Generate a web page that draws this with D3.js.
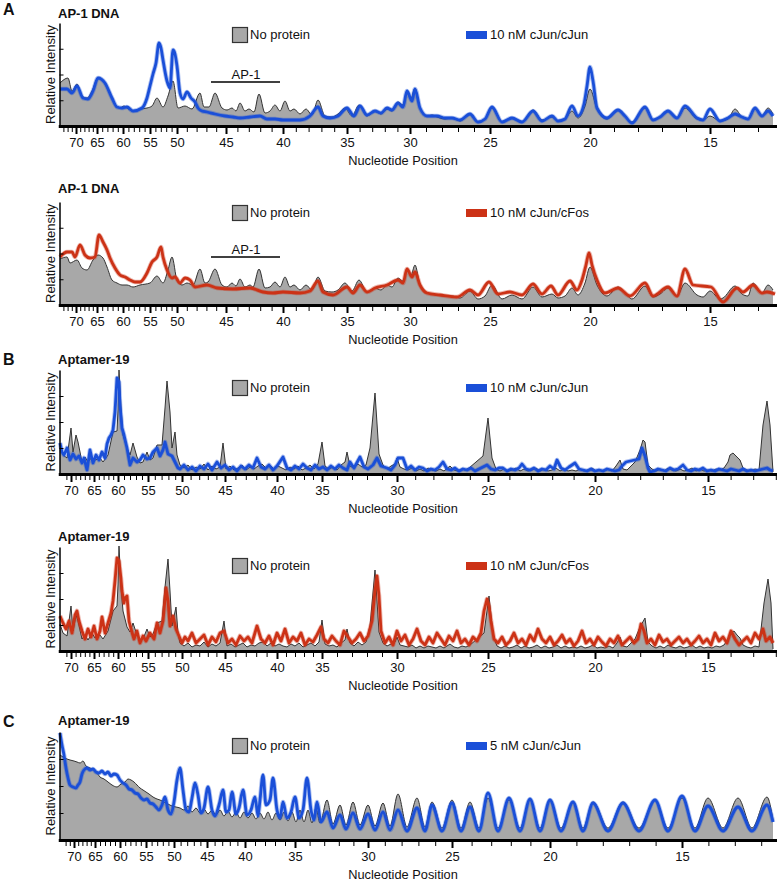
<!DOCTYPE html>
<html><head><meta charset="utf-8">
<script src="https://cdn.jsdelivr.net/npm/d3@7/dist/d3.min.js"></script>
<style>
body{margin:0;background:#fff}
svg text{font-family:"Liberation Sans", Arial, Helvetica, sans-serif;fill:#111}
</style>
</head><body>
<svg id="c" width="780" height="881"></svg>
<script>
// ---------------- DATA ----------------
// x values are electrophoresis scan units, y values are relative intensity units
const tickLabels = [70,65,60,55,50,45,40,35,30,25,20,15];
const ticksScanA = [16,37,63,90,117,166,223,287,350,430,530,650];
const ticksScanB = [11,34,58,88,122,165,217,262,337,428,535,648];
const ticksScanC = [14,35,60,86,114,147,185,235,308,392,490,622];

const a1Gray = [[0,43],[8,48],[12,35],[17,42],[22,30],[27,28],[32,35],[38,48],[43,45],[50,32],[55,22],[60,18],[64,20],[67,18],[73,15],[80,17],[87,18],[92,20],[97,28],[103,19],[108,30],[113,45],[118,18],[125,20],[132,17],[140,33],[144,19],[149,19],[155,33],[162,18],[167,16],[172,18],[176,15],[180,23],[185,15],[189,17],[194,14],[199,32],[205,13],[210,15],[215,21],[220,15],[225,25],[230,15],[234,17],[240,12],[246,17],[252,11],[258,26],[265,10],[272,9],[278,12],[285,18],[292,10],[299,21],[307,10],[315,15],[321,12],[327,17],[332,15],[338,24],[343,21],[347,35],[351,28],[355,38],[360,18],[367,10],[372,11],[377,9],[385,7],[392,8],[400,5],[410,12],[418,4],[425,7],[432,18],[442,4],[452,8],[462,4],[473,16],[482,6],[492,9],[498,5],[505,7],[512,15],[518,8],[525,20],[530,37],[537,17],[547,7],[558,16],[565,10],[572,4],[585,18],[593,6],[600,9],[608,15],[617,8],[625,18],[637,7],[643,6],[650,10],[660,5],[668,7],[675,17],[682,9],[688,7],[695,17],[702,10],[708,18],[713,12]];
const a1Jun = [[0,37],[7,37],[12,33],[17,40],[23,28],[28,27],[33,35],[38,48],[45,43],[52,28],[57,19],[62,18],[67,19],[73,15],[82,18],[87,28],[90,40],[93,52],[96,63],[99,83],[101,78],[103,66],[107,45],[110,38],[113,76],[115,72],[117,60],[120,33],[123,27],[127,34],[131,28],[135,24],[138,18],[142,15],[147,14],[155,12],[165,10],[173,9],[180,8],[190,9],[200,10],[207,7],[215,7],[223,6],[232,6],[240,6],[250,10],[258,19],[263,10],[270,8],[278,10],[287,18],[294,10],[300,20],[307,11],[315,15],[321,13],[327,18],[332,16],[338,23],[343,19],[347,35],[352,25],[355,37],[360,18],[367,10],[377,10],[385,8],[392,8],[400,6],[410,12],[418,4],[425,7],[432,19],[442,4],[452,8],[462,4],[473,15],[482,5],[492,10],[498,5],[505,7],[512,20],[518,10],[524,22],[527,40],[530,59],[533,45],[537,18],[547,8],[558,16],[565,10],[572,3],[585,19],[593,6],[600,9],[608,15],[617,8],[625,20],[637,8],[643,6],[650,17],[660,5],[668,8],[675,12],[682,9],[688,7],[695,18],[702,10],[708,15],[713,10]];

const a2Gray = [[0,46],[7,48],[10,42],[17,45],[22,37],[27,35],[33,45],[38,50],[43,47],[47,38],[52,25],[57,22],[62,20],[67,20],[73,18],[80,20],[90,22],[97,29],[103,22],[108,35],[112,48],[117,25],[122,20],[127,22],[133,20],[140,36],[145,22],[148,23],[155,36],[162,20],[167,18],[172,22],[176,19],[180,26],[185,18],[190,20],[193,18],[199,36],[205,17],[210,18],[215,23],[220,18],[225,28],[230,18],[234,20],[240,15],[246,20],[252,15],[258,28],[265,14],[272,13],[278,15],[285,22],[292,14],[299,25],[307,13],[315,17],[321,15],[327,20],[332,18],[338,27],[343,24],[347,35],[351,30],[355,40],[360,20],[367,12],[377,10],[385,9],[392,9],[400,7],[410,14],[418,6],[425,9],[432,20],[442,6],[452,10],[462,6],[473,18],[482,8],[492,11],[498,7],[505,9],[512,17],[518,10],[525,22],[530,38],[537,20],[547,9],[558,18],[565,12],[572,6],[585,19],[593,8],[600,11],[608,17],[617,9],[625,22],[637,10],[643,8],[650,14],[660,6],[663,7],[675,19],[682,11],[688,9],[693,22],[702,12],[708,20],[713,15]];
const a2Fos = [[0,48],[7,53],[12,53],[15,48],[20,60],[25,50],[30,47],[35,48],[39,70],[43,63],[47,55],[50,47],[55,37],[60,30],[65,28],[70,25],[75,23],[80,23],[87,32],[92,43],[97,48],[101,58],[103,48],[107,35],[112,27],[115,28],[120,22],[125,27],[130,25],[135,18],[147,20],[157,17],[173,16],[190,17],[203,13],[213,12],[223,13],[240,12],[250,14],[258,24],[263,13],[273,10],[287,18],[293,12],[300,20],[307,13],[315,17],[327,20],[338,25],[343,22],[347,36],[352,28],[355,33],[360,20],[367,12],[380,10],[397,8],[410,15],[418,10],[429,23],[438,11],[450,13],[462,10],[473,21],[482,11],[491,19],[498,10],[510,24],[517,15],[522,25],[526,40],[529,52],[532,40],[537,25],[545,12],[558,17],[570,9],[585,22],[593,9],[608,18],[617,9],[625,36],[633,20],[651,18],[663,3],[677,17],[683,13],[693,20],[702,12],[707,13],[715,11]];

const b1Gray = [[0,29],[3,19],[7,16],[11,46],[13,22],[16,39],[18,32],[22,12],[25,17],[28,12],[32,17],[35,14],[40,16],[43,12],[48,19],[53,42],[57,43],[58,64],[59,104],[61,66],[63,39],[67,26],[70,19],[73,31],[77,17],[80,11],[83,12],[87,22],[90,14],[93,16],[97,29],[102,29],[105,66],[107,93],[110,62],[112,26],[115,42],[117,19],[120,9],[124,6],[128,9],[132,4],[136,7],[140,5],[144,10],[148,4],[152,8],[156,5],[160,7],[163,31],[166,5],[170,8],[174,4],[178,6],[182,9],[186,4],[190,7],[194,5],[198,8],[202,10],[206,6],[210,9],[214,5],[218,8],[222,6],[226,4],[230,7],[234,5],[238,8],[242,4],[246,6],[250,9],[254,5],[258,10],[262,32],[265,8],[269,5],[273,7],[277,4],[281,9],[285,12],[287,22],[290,8],[294,6],[298,10],[302,7],[306,9],[310,26],[315,81],[319,20],[323,9],[327,5],[331,8],[335,10],[337,16],[340,7],[344,5],[348,4],[352,6],[356,3],[360,5],[364,3],[368,6],[372,4],[376,3],[380,5],[384,3],[390,8],[394,4],[398,3],[402,5],[405,4],[409,6],[423,18],[428,56],[432,16],[436,5],[440,3],[444,5],[448,3],[452,4],[456,6],[460,3],[464,5],[468,3],[472,4],[476,6],[480,3],[484,5],[488,3],[492,4],[496,6],[500,3],[504,5],[508,3],[512,4],[516,3],[520,5],[524,3],[528,4],[532,6],[536,3],[540,4],[544,3],[548,5],[552,3],[556,8],[560,14],[563,5],[567,4],[571,8],[575,12],[580,24],[583,34],[585,32],[588,9],[592,5],[596,3],[600,5],[604,3],[608,6],[612,4],[616,3],[620,5],[624,3],[628,4],[632,6],[636,3],[640,5],[644,3],[648,4],[652,3],[656,5],[660,4],[664,6],[668,12],[670,19],[673,21],[677,17],[680,14],[683,6],[687,4],[691,3],[695,5],[699,4],[703,49],[707,73],[710,49],[713,2]];
const b1Jun = [[0,31],[2,22],[4,19],[7,26],[10,14],[13,20],[16,15],[19,18],[22,11],[24,16],[27,4],[30,24],[33,11],[36,19],[39,14],[42,22],[45,16],[47,30],[49,36],[51,39],[53,44],[55,62],[57,96],[59,92],[60,69],[62,46],[64,39],[67,26],[70,9],[73,16],[77,12],[80,14],[83,19],[87,15],[90,16],[93,22],[97,26],[100,18],[103,24],[105,32],[108,20],[112,18],[115,12],[118,6],[120,5],[124,9],[128,4],[132,7],[136,3],[140,8],[144,5],[148,10],[152,4],[157,12],[161,6],[165,9],[169,4],[173,7],[177,3],[181,8],[185,5],[189,9],[193,6],[197,16],[201,7],[205,5],[209,9],[213,4],[217,8],[223,17],[227,6],[231,4],[235,8],[239,5],[243,10],[247,6],[251,4],[255,9],[259,5],[263,7],[267,4],[271,8],[275,5],[279,9],[283,6],[287,4],[290,12],[294,6],[300,17],[304,7],[308,5],[313,9],[317,16],[321,8],[327,6],[331,4],[335,9],[338,16],[343,16],[347,5],[351,8],[355,4],[359,7],[363,6],[367,3],[371,5],[375,4],[379,7],[383,12],[387,5],[391,4],[395,6],[399,3],[403,5],[407,4],[411,6],[415,3],[419,5],[423,7],[427,9],[431,5],[435,4],[439,6],[443,6],[447,3],[451,5],[455,4],[459,6],[462,10],[466,5],[470,4],[474,6],[478,3],[482,5],[486,4],[490,8],[494,5],[497,14],[501,6],[505,4],[509,7],[515,11],[519,5],[523,4],[527,3],[531,5],[535,3],[539,4],[543,3],[547,5],[551,4],[555,3],[559,4],[562,8],[566,12],[579,15],[582,26],[585,18],[588,6],[590,2],[594,3],[598,5],[602,4],[606,3],[610,6],[614,4],[618,5],[623,9],[627,4],[631,3],[635,5],[639,4],[643,6],[647,3],[651,4],[655,3],[659,5],[663,4],[667,3],[671,5],[675,4],[679,3],[683,5],[687,3],[691,4],[695,3],[699,4],[703,5],[707,6],[710,4],[713,3]];

const b2Gray = [[0,27],[3,18],[7,15],[11,45],[13,20],[16,36],[18,30],[22,12],[25,16],[28,11],[32,18],[35,13],[40,16],[43,12],[48,20],[53,40],[57,45],[58,66],[59,105],[61,64],[63,40],[67,24],[70,19],[73,28],[77,16],[80,11],[83,12],[87,22],[90,14],[93,17],[97,28],[102,30],[105,64],[108,92],[110,60],[112,25],[116,44],[118,18],[120,8],[124,5],[128,8],[132,4],[136,6],[140,5],[144,9],[148,4],[152,7],[156,5],[160,8],[164,30],[167,5],[171,7],[175,4],[179,6],[183,8],[187,4],[191,6],[195,5],[199,8],[203,9],[207,5],[211,8],[215,5],[219,7],[223,5],[227,4],[231,7],[235,5],[239,8],[243,4],[247,6],[251,8],[255,5],[259,9],[262,31],[265,7],[269,5],[273,6],[277,4],[281,8],[285,11],[287,22],[290,8],[294,5],[298,9],[302,6],[306,9],[310,25],[315,81],[319,19],[323,8],[327,5],[331,7],[335,9],[337,14],[340,6],[344,5],[348,4],[352,6],[356,3],[360,5],[364,3],[368,5],[372,4],[376,3],[380,5],[384,3],[390,7],[394,4],[398,3],[402,5],[406,4],[410,6],[424,18],[429,55],[433,16],[437,5],[441,3],[445,5],[449,3],[453,4],[457,6],[461,3],[465,5],[469,3],[473,4],[477,6],[481,3],[485,5],[489,3],[493,4],[497,6],[501,3],[505,5],[509,3],[513,4],[517,3],[521,5],[525,3],[529,4],[533,6],[537,3],[541,4],[545,3],[549,5],[553,3],[557,8],[560,14],[563,5],[567,4],[571,8],[575,12],[580,24],[585,33],[588,9],[592,5],[596,3],[600,5],[604,3],[608,6],[612,4],[616,3],[620,5],[624,3],[628,4],[632,6],[636,3],[640,5],[644,3],[648,4],[652,3],[656,5],[660,4],[664,6],[668,12],[671,18],[674,20],[677,16],[680,13],[683,6],[687,4],[691,3],[695,5],[699,4],[704,48],[708,72],[711,48],[713,2]];
const b2Fos = [[0,35],[3,28],[6,22],[9,30],[12,18],[15,36],[17,40],[19,30],[22,20],[25,12],[28,22],[31,14],[34,25],[37,12],[40,20],[42,34],[45,18],[48,28],[51,38],[53,50],[55,70],[57,93],[59,90],[61,72],[62,60],[64,48],[65,53],[67,55],[69,30],[71,22],[74,12],[77,20],[80,8],[83,15],[86,10],[90,18],[94,12],[97,28],[100,18],[103,30],[106,63],[108,50],[110,25],[113,35],[116,22],[119,15],[122,8],[125,14],[128,10],[132,18],[136,8],[140,12],[144,16],[148,6],[152,14],[156,9],[160,18],[164,20],[168,8],[172,12],[176,6],[180,15],[184,10],[188,14],[192,8],[197,25],[201,12],[205,8],[209,15],[213,6],[217,18],[221,10],[225,22],[229,8],[233,14],[237,10],[241,18],[245,6],[249,12],[253,9],[257,16],[261,24],[264,12],[268,8],[272,15],[276,10],[280,6],[284,20],[288,14],[292,8],[296,12],[300,18],[304,10],[308,15],[312,30],[315,60],[317,75],[319,55],[321,20],[325,8],[329,14],[333,6],[337,20],[341,10],[345,16],[349,6],[353,12],[357,22],[361,10],[365,6],[369,14],[373,8],[377,18],[381,12],[385,6],[389,15],[393,10],[397,20],[401,8],[405,12],[409,6],[413,14],[417,10],[421,18],[424,40],[427,52],[429,45],[431,30],[434,12],[438,8],[442,14],[446,6],[450,10],[454,18],[458,8],[462,12],[466,6],[470,16],[474,10],[478,22],[482,12],[486,8],[490,14],[494,6],[498,10],[502,16],[506,8],[510,12],[514,5],[518,10],[522,20],[526,8],[530,12],[534,6],[538,14],[542,9],[546,5],[550,12],[554,8],[558,15],[562,6],[566,10],[570,14],[574,8],[578,12],[581,27],[584,20],[587,8],[591,12],[595,6],[599,16],[603,9],[607,12],[611,6],[615,10],[619,14],[623,8],[627,12],[631,6],[635,10],[639,15],[643,8],[647,12],[651,6],[655,18],[659,10],[663,14],[667,8],[671,20],[675,12],[679,6],[683,10],[687,14],[691,8],[695,18],[699,12],[703,22],[706,10],[710,14],[713,8]];

const cGray = [[0,85],[3,83],[7,81],[10,80],[14,79],[17,78],[20,77],[23,79],[26,74],[30,72],[34,70],[37,67],[40,63],[44,61],[48,58],[52,55],[57,53],[61,56],[65,58],[68,61],[71,60],[74,58],[77,55],[80,52],[83,50],[86,48],[89,46],[93,43],[97,41],[100,40],[104,38],[108,36],[112,34],[116,33],[120,32],[124,30],[128,34],[132,28],[136,32],[140,27],[144,31],[148,26],[152,30],[156,25],[160,30],[164,24],[168,29],[172,23],[176,28],[180,22],[184,28],[188,22],[192,27],[196,21],[200,27],[204,21],[208,28],[212,20],[216,27],[220,20],[224,28],[228,19],[232,28],[236,18],[240,30],[244,18],[248,30],[252,17],[256,32],[260,17],[267,40],[273,16],[280,35],[286,15],[293,38],[300,15],[308,35],[315,14],[323,37],[330,14],[338,46],[347,13],[357,42],[365,13],[372,38],[382,12],[392,40],[401,12],[410,38],[419,12],[428,42],[438,12],[449,40],[460,12],[470,40],[480,12],[490,40],[501,12],[513,38],[523,12],[533,38],[548,12],[563,38],[579,12],[595,40],[608,12],[622,42],[635,12],[648,42],[663,12],[678,42],[692,12],[707,43],[713,20]];
const cJun = [[0,107],[2,95],[4,85],[6,72],[8,62],[10,55],[13,53],[16,52],[18,55],[20,58],[22,66],[24,70],[27,72],[30,70],[33,71],[36,68],[39,67],[42,69],[45,66],[48,68],[51,64],[54,66],[57,65],[60,60],[63,57],[66,55],[69,51],[72,50],[75,47],[78,46],[81,42],[84,40],[87,41],[90,37],[93,36],[96,33],[99,30],[102,35],[105,43],[108,30],[111,26],[114,38],[117,60],[120,72],[123,50],[126,30],[129,28],[132,42],[135,57],[138,45],[141,27],[144,32],[148,53],[152,30],[155,24],[159,35],[163,50],[166,28],[169,30],[172,48],[176,26],[179,32],[183,50],[187,25],[191,30],[195,43],[198,24],[200,40],[203,65],[206,35],[210,40],[213,62],[217,30],[220,22],[223,38],[227,22],[231,28],[235,43],[239,22],[243,30],[247,62],[251,30],[254,20],[257,38],[261,18],[267,28],[273,12],[280,25],[286,11],[293,27],[300,11],[308,26],[315,10],[323,28],[330,10],[338,30],[347,9],[357,32],[365,9],[372,35],[382,9],[392,37],[401,9],[410,33],[419,9],[428,47],[438,9],[449,42],[460,9],[470,41],[480,9],[490,40],[501,9],[513,38],[523,9],[533,37],[548,9],[563,37],[579,9],[595,40],[608,9],[622,44],[635,9],[648,34],[663,9],[678,33],[692,9],[707,35],[713,18]];

// ---------------- LAYOUT ----------------
const BLUE = "#1a4fd8", RED = "#cc3216", GRAY = "#a8a8a8";
const panels = [
  {letter:"A", letterY:15, title:"AP-1 DNA", titleY:18, top:23, base:126, ymax:103, ticks:ticksScanA,
   gray:a1Gray, sig:a1Jun, sigName:"10 nM cJun/cJun", color:BLUE, smooth:true, legY:27, ap1Y:82},
  {letter:null, title:"AP-1 DNA", titleY:193, top:202, base:305, ymax:103, ticks:ticksScanA,
   gray:a2Gray, sig:a2Fos, sigName:"10 nM cJun/cFos", color:RED, smooth:true, legY:205, ap1Y:257},
  {letter:"B", letterY:365, title:"Aptamer-19", titleY:364, top:370, base:474, ymax:104, ticks:ticksScanB,
   gray:b1Gray, sig:b1Jun, sigName:"10 nM cJun/cJun", color:BLUE, smooth:false, legY:380},
  {letter:null, title:"Aptamer-19", titleY:541, top:547, base:651, ymax:104, ticks:ticksScanB,
   gray:b2Gray, sig:b2Fos, sigName:"10 nM cJun/cFos", color:RED, smooth:false, legY:558},
  {letter:"C", letterY:727, title:"Aptamer-19", titleY:725, top:732, base:840, ymax:108, ticks:ticksScanC,
   gray:cGray, sig:cJun, sigName:"5 nM cJun/cJun", color:BLUE, smooth:true, legY:738}
];

const svg = d3.select("#c");
const xs = d3.scaleLinear().domain([0,718]).range([60,778]);
const axisLeftX = 59.5, axisRightX = 777;

panels.forEach(p => {
  const g = svg.append("g");
  const ys = d3.scaleLinear().domain([0,p.ymax]).range([p.base,p.top]);
  const curve = p.smooth ? d3.curveMonotoneX : d3.curveLinear;

  // gray area
  const area = d3.area().x(d=>xs(d[0])).y0(ys(0)).y1(d=>ys(d[1])).curve(curve);
  const line = d3.line().x(d=>xs(d[0])).y(d=>ys(d[1])).curve(curve);
  g.append("path").attr("d",area(p.gray)).attr("fill",GRAY);
  g.append("path").attr("d",line(p.gray)).attr("fill","none").attr("stroke","#333").attr("stroke-width",1);
  // signal line
  g.append("path").attr("d",line(p.sig)).attr("fill","none").attr("stroke",p.color)
    .attr("stroke-opacity",0.35).attr("stroke-width",4.6).attr("stroke-linejoin","round");
  g.append("path").attr("d",line(p.sig)).attr("fill","none").attr("stroke",p.color)
    .attr("stroke-width",2.8).attr("stroke-linejoin","round");

  // y axis
  const yAxis = d3.axisRight(ys).tickValues([p.ymax/4,p.ymax/2,3*p.ymax/4]).tickSize(4).tickSizeOuter(0).tickFormat("");
  const ya = g.append("g").attr("transform",`translate(${axisLeftX},0)`).call(yAxis);
  ya.select(".domain").attr("stroke","#000").attr("stroke-width",1.5);
  ya.selectAll(".tick line").attr("stroke","#000").attr("stroke-width",1);

  // x axis (nucleotide position, piecewise mapping from scan)
  const ntPx = d3.scaleLinear().domain(tickLabels).range(p.ticks.map(xs));
  const minors = d3.range(12,74).filter(n => !tickLabels.includes(n) && ntPx(n) > 62 && ntPx(n) < axisRightX-1);
  const xMinor = d3.axisBottom(ntPx).tickValues(minors).tickSize(6).tickSizeOuter(0).tickFormat("");
  const xm = g.append("g").attr("transform",`translate(0,${p.base})`).call(xMinor);
  xm.select(".domain").remove();
  xm.selectAll(".tick line").attr("stroke","#000").attr("stroke-width",1);
  const xMajor = d3.axisBottom(ntPx).tickValues(tickLabels).tickSize(8).tickSizeOuter(0).tickPadding(4).tickFormat(d3.format("d"));
  const xa = g.append("g").attr("transform",`translate(0,${p.base})`).call(xMajor);
  xa.select(".domain").remove();
  xa.selectAll(".tick line").attr("stroke","#000").attr("stroke-width",2);
  xa.selectAll(".tick text").attr("font-size",13).attr("fill","#111")
    .attr("font-family",'"Liberation Sans", Arial, sans-serif');
  g.append("line").attr("x1",axisLeftX-0.75).attr("x2",axisRightX).attr("y1",p.base+0.5).attr("y2",p.base+0.5)
    .attr("stroke","#000").attr("stroke-width",3);

  // labels
  g.append("text").attr("x",403).attr("y",p.base+39).attr("text-anchor","middle")
    .attr("font-size",12.8).text("Nucleotide Position");
  g.append("text").attr("transform",`translate(55,${(p.top+p.base)/2}) rotate(-90)`)
    .attr("text-anchor","middle").attr("font-size",13).text("Relative Intensity");
  g.append("text").attr("x",58).attr("y",p.titleY).attr("font-size",13).attr("font-weight","bold").text(p.title);
  if (p.letter) g.append("text").attr("x",3).attr("y",p.letterY).attr("font-size",16).attr("font-weight","bold").text(p.letter);

  // legend
  g.append("rect").attr("x",232.5).attr("y",p.legY+0.5).attr("width",15).attr("height",15)
    .attr("fill",GRAY).attr("stroke","#333").attr("stroke-width",1.2);
  g.append("text").attr("x",250).attr("y",p.legY+12).attr("font-size",13).text("No protein");
  g.append("rect").attr("x",466).attr("y",p.legY+4).attr("width",21).attr("height",8).attr("fill",p.color);
  g.append("text").attr("x",490).attr("y",p.legY+12).attr("font-size",13).text(p.sigName);

  // AP-1 site annotation
  if (p.ap1Y) {
    g.append("line").attr("x1",211).attr("x2",280).attr("y1",p.ap1Y).attr("y2",p.ap1Y)
      .attr("stroke","#000").attr("stroke-width",1.5);
    g.append("text").attr("x",246).attr("y",p.ap1Y-3).attr("text-anchor","middle").attr("font-size",13).text("AP-1");
  }
});
</script>
</body></html>
